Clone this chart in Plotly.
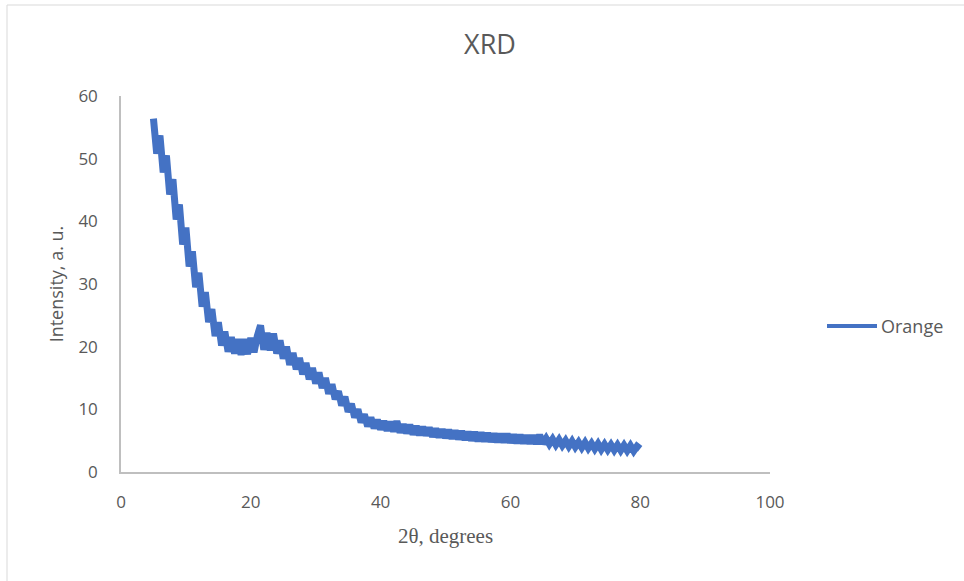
import plotly.graph_objects as go

# Scan angles (2θ, degrees) and measured intensity (a. u.) for the Orange sample
two_theta = [
    5.0, 5.5, 6.0, 6.5, 7.0, 7.5, 8.0, 8.5, 9.0, 9.5,
    10.0, 10.5, 11.0, 11.5, 12.0, 12.5, 13.0, 13.5, 14.0, 14.5,
    15.0, 15.5, 16.0, 16.5, 17.0, 17.5, 18.0, 18.5, 19.0, 19.5,
    20.0, 20.5, 21.0, 21.5, 22.0, 22.5, 23.0, 23.5, 24.0, 24.5,
    25.0, 25.5, 26.0, 26.5, 27.0, 27.5, 28.0, 28.5, 29.0, 29.5,
    30.0, 30.5, 31.0, 31.5, 32.0, 32.5, 33.0, 33.5, 34.0, 34.5,
    35.0, 35.5, 36.0, 36.5, 37.0, 37.5, 38.0, 38.5, 39.0, 39.5,
    40.0, 40.5, 41.0, 41.5, 42.0, 42.5, 43.0, 43.5, 44.0, 44.5,
    45.0, 45.5, 46.0, 46.5, 47.0, 47.5, 48.0, 48.5, 49.0, 49.5,
    50.0, 50.5, 51.0, 51.5, 52.0, 52.5, 53.0, 53.5, 54.0, 54.5,
    55.0, 55.5, 56.0, 56.5, 57.0, 57.5, 58.0, 58.5, 59.0, 59.5,
    60.0, 60.5, 61.0, 61.5, 62.0, 62.5, 63.0, 63.5, 64.0, 64.5,
    65.0, 65.5, 66.0, 66.5, 67.0, 67.5, 68.0, 68.5, 69.0, 69.5,
    70.0, 70.5, 71.0, 71.5, 72.0, 72.5, 73.0, 73.5, 74.0, 74.5,
    75.0, 75.5, 76.0, 76.5, 77.0, 77.5, 78.0, 78.5, 79.0, 79.5,
    80.0,
]

intensity = [
    56.4, 50.8, 53.7, 47.8, 50.5, 44.3, 46.7, 40.3, 42.7, 36.3,
    39.0, 32.8, 35.2, 29.5, 31.8, 26.4, 28.7, 23.9, 26.0, 21.7,
    23.9, 20.2, 22.4, 19.2, 21.5, 18.9, 21.2, 18.7, 21.2, 18.8,
    21.4, 19.1, 21.7, 23.4, 19.5, 22.2, 19.4, 22.1, 18.9, 21.0,
    18.1, 20.0, 17.1, 19.0, 16.4, 18.2, 15.6, 17.4, 14.8, 16.6,
    14.1, 15.9, 13.4, 15.0, 12.5, 14.0, 11.6, 12.9, 10.6, 12.0,
    9.6, 10.9, 8.7, 10.0, 7.9, 9.2, 7.3, 8.7, 7.0, 8.3,
    6.8, 8.1, 6.6, 8.0, 6.5, 8.1, 6.3, 7.6, 6.2, 7.5,
    6.0, 7.3, 5.9, 7.2, 5.85, 7.05, 5.65, 6.9, 5.55, 6.8,
    5.45, 6.7, 5.35, 6.6, 5.25, 6.5, 5.15, 6.4, 5.05, 6.35,
    4.95, 6.25, 4.9, 6.2, 4.85, 6.1, 4.8, 6.05, 4.75, 6.05,
    4.7, 5.95, 4.65, 5.9, 4.6, 5.8, 4.55, 5.8, 4.5, 5.9,
    4.55, 5.35, 4.45, 5.25, 4.35, 5.15, 4.25, 5.0, 4.1, 4.9,
    4.0, 4.75, 3.9, 4.7, 3.8, 4.55, 3.7, 4.5, 3.6, 4.4,
    3.55, 4.35, 3.5, 4.3, 3.45, 4.25, 3.4, 4.2, 3.35, 4.1,
    3.7,
]

series_name = "Orange"
x_ticks = [0, 20, 40, 60, 80, 100]
y_ticks = [0, 10, 20, 30, 40, 50, 60]

LINE_BLUE = "#4472C4"
TEXT_GREY = "#595959"
AXIS_GREY = "#bfbfbf"
SANS = "Open Sans, Noto Sans, sans-serif"
SERIF = "Liberation Serif, Times New Roman, serif"

fig = go.Figure()
fig.add_trace(go.Scatter(
    x=two_theta, y=intensity, mode="lines", name=series_name,
    line=dict(color=LINE_BLUE, width=7, shape="linear", simplify=False),
    showlegend=False,
))

# Plot-area geometry (pixels) used for the legend and chart border placement
L, R, T, B = 121, 194, 96, 109
W, H = 964, 581
pw, ph = W - L - R, H - T - B

def px_x(px):
    return (px - L) / pw

def px_y(py):
    return (H - B - py) / ph

fig.update_layout(
    width=W, height=H,
    margin=dict(l=L, r=R, t=T, b=B),
    paper_bgcolor="white", plot_bgcolor="white",
    title=dict(text="XRD", x=490 / W, xref="container", xanchor="center",
               y=1 - 45 / H, yref="container", yanchor="middle",
               font=dict(family=SANS, size=27, color=TEXT_GREY)),
    xaxis=dict(
        range=[0, 100], tickvals=x_ticks, showgrid=False, zeroline=False,
        showline=True, linecolor=AXIS_GREY, linewidth=1.5, ticks="",
        ticklabelstandoff=14,
        tickfont=dict(family=SANS, size=17, color=TEXT_GREY),
        title=dict(text="2θ, degrees", standoff=16,
                   font=dict(family=SERIF, size=21, color=TEXT_GREY)),
    ),
    yaxis=dict(
        range=[0, 60], tickvals=y_ticks, showgrid=False, zeroline=False,
        showline=True, linecolor=AXIS_GREY, linewidth=1.5, ticks="",
        ticklabelstandoff=18,
        tickfont=dict(family=SANS, size=17, color=TEXT_GREY),
        title=dict(text="Intensity, a. u.", standoff=10,
                   font=dict(family=SANS, size=18, color=TEXT_GREY)),
    ),
)

# Legend entry: line sample followed by the series name
fig.add_shape(type="line", xref="paper", yref="paper",
              x0=px_x(827), x1=px_x(877), y0=px_y(326), y1=px_y(326),
              line=dict(color=LINE_BLUE, width=4))
fig.add_annotation(text=series_name, xref="paper", yref="paper",
                   x=px_x(879), y=px_y(326), xanchor="left", yanchor="middle",
                   showarrow=False,
                   font=dict(family=SANS, size=18, color=TEXT_GREY))

# Chart-area border
fig.add_shape(type="rect", xref="paper", yref="paper",
              x0=px_x(7), x1=px_x(970), y0=px_y(590), y1=px_y(5),
              line=dict(color="#d9d9d9", width=1), layer="below")

fig.write_html("out.html")
